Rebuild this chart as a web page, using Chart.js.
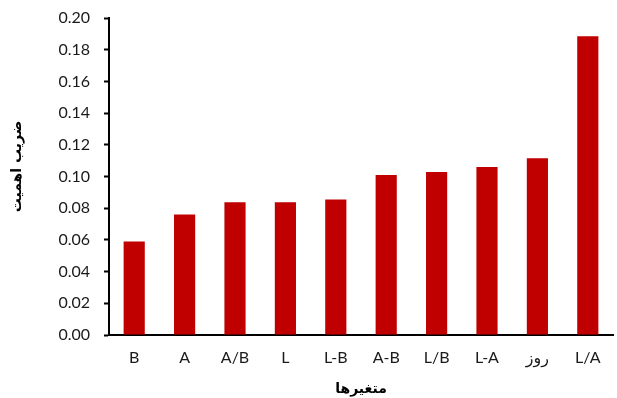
<!DOCTYPE html>
<html>
<head>
<meta charset="utf-8">
<script src="https://cdn.jsdelivr.net/npm/chart.js@4/dist/chart.umd.min.js"></script>
<style>
  html, body { margin: 0; padding: 0; background: #ffffff; }
  #wrap { width: 617px; height: 398px; position: relative; }
</style>
</head>
<body>
<div id="wrap"><canvas id="chart"></canvas></div>
<script>
// Variables and their importance coefficients
const categories = ['B', 'A', 'A/B', 'L', 'L-B', 'A-B', 'L/B', 'L-A', 'روز', 'L/A'];
const importance = [0.059, 0.076, 0.0837, 0.0837, 0.0855, 0.101, 0.1028, 0.106, 0.1115, 0.1885];
const yTicks = [0, 0.02, 0.04, 0.06, 0.08, 0.10, 0.12, 0.14, 0.16, 0.18, 0.20];
const xTitle = 'متغیرها';
const yTitle = 'ضریب اهمیت';

const baseFont = "Lato, 'Liberation Sans', 'DejaVu Sans', sans-serif";
const titleFont = "bold 14px 'DejaVu Sans', sans-serif";

// Vertical axis title, set slightly above the plot's middle and rotated to read upward
const yTitlePlugin = {
  id: 'yTitle',
  afterDraw(chart) {
    const ctx = chart.ctx;
    const area = chart.chartArea;
    ctx.save();
    ctx.translate(17, (area.top + area.bottom) / 2 - 10);
    ctx.rotate(-Math.PI / 2);
    ctx.font = titleFont;
    ctx.fillStyle = '#000000';
    ctx.textAlign = 'center';
    ctx.textBaseline = 'middle';
    ctx.fillText(yTitle, 0, 0);
    ctx.restore();
  }
};

new Chart(document.getElementById('chart'), {
  type: 'bar',
  data: {
    labels: categories,
    datasets: [{
      data: importance,
      backgroundColor: '#C00000',
      borderWidth: 0,
      barPercentage: 0.42,
      categoryPercentage: 1.0
    }]
  },
  options: {
    responsive: true,
    maintainAspectRatio: false,
    animation: false,
    layout: { padding: { top: 18, right: 4, left: 0, bottom: 0 } },
    plugins: { legend: { display: false }, tooltip: { enabled: false } },
    scales: {
      x: {
        grid: { display: false, drawTicks: false },
        border: { display: true, color: '#000000', width: 2 },
        ticks: {
          color: '#1a1a1a',
          font: { family: baseFont, size: 16 },
          padding: 13,
          maxRotation: 0,
          autoSkip: false
        },
        title: {
          display: true,
          text: xTitle,
          color: '#000000',
          font: { family: "'DejaVu Sans', sans-serif", size: 14, weight: 'bold' },
          padding: { top: 5, bottom: 0 }
        },
        afterFit: (s) => {
          s.height = 63;
          s.paddingLeft = 0;
          s.paddingRight = 0;
        }
      },
      y: {
        min: 0,
        max: 0.2,
        afterBuildTicks: (s) => { s.ticks = yTicks.map(v => ({ value: v })); },
        grid: {
          display: true,
          drawOnChartArea: false,
          drawTicks: true,
          tickLength: 5,
          tickWidth: 2,
          color: '#000000'
        },
        border: { display: true, color: '#000000', width: 2 },
        ticks: {
          color: '#1a1a1a',
          font: { family: baseFont, size: 16 },
          padding: 14,
          callback: (v) => Number(v).toFixed(2)
        },
        title: { display: false },
        afterFit: (s) => {
          s.width = 109;
          s.paddingTop = 0;
          s.paddingBottom = 0;
        }
      }
    }
  },
  plugins: [yTitlePlugin]
});
</script>
</body>
</html>
